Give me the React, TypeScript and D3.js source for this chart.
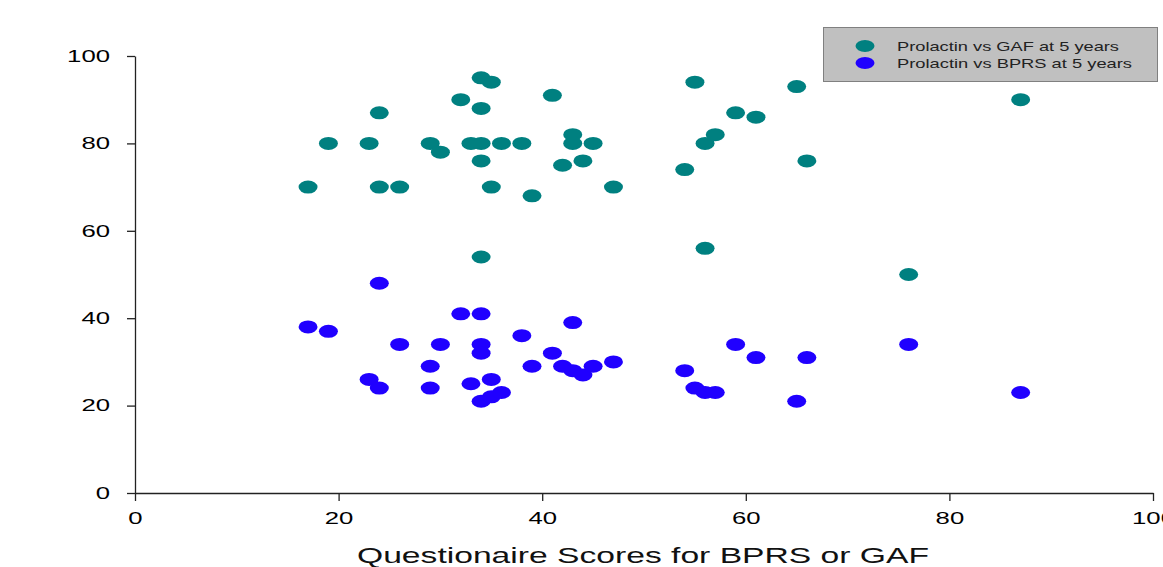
import React, { useRef, useEffect } from "react";
import * as d3 from "d3";

// series labels
const seriesNames = ["Prolactin vs GAF at 5 years", "Prolactin vs BPRS at 5 years"];
const seriesColors = ["#008080", "#2000ff"];

// GAF at 5 years
const gafX = [17, 19, 23, 24, 24, 26, 29, 30, 32, 33, 34, 34, 34, 34, 34, 35, 35, 36, 38, 39, 41, 42, 43, 43, 44, 45, 47, 54, 55, 56, 56, 57, 59, 61, 65, 66, 76, 87];
const gafY = [70, 80, 80, 87, 70, 70, 80, 78, 90, 80, 95, 88, 80, 76, 54, 94, 70, 80, 80, 68, 91, 75, 82, 80, 76, 80, 70, 74, 94, 80, 56, 82, 87, 86, 93, 76, 50, 90];

// BPRS at 5 years
const bprsX = [17, 19, 23, 24, 24, 26, 29, 29, 30, 32, 33, 34, 34, 34, 34, 35, 35, 36, 38, 39, 41, 42, 43, 43, 44, 45, 47, 54, 55, 56, 57, 59, 61, 65, 66, 76, 87];
const bprsY = [38, 37, 26, 48, 24, 34, 29, 24, 34, 41, 25, 41, 34, 32, 21, 26, 22, 23, 36, 29, 32, 29, 39, 28, 27, 29, 30, 28, 24, 23, 23, 34, 31, 21, 31, 34, 23];

const xTicks = [0, 20, 40, 60, 80, 100];
const yTicks = [0, 20, 40, 60, 80, 100];
const xTitle = "Questionaire Scores for BPRS or GAF";

function App() {
  const width = 1163;
  const height = 567;
  const margin = { top: 56, right: 10, bottom: 74, left: 135 };
  let svgRef = useRef(null);

  const draw = () => {
    const svg = d3.select(svgRef.current);
    svg.selectAll("*").remove();

    const x = d3.scaleLinear().domain([0, 100]).range([margin.left, 1153]);
    const y = d3.scaleLinear().domain([0, 100]).range([height - margin.bottom, margin.top]);

    // the original is stretched sideways, so labels get a fixed width per char
    const charW = 14.3;

    const yAxis = svg
      .append("g")
      .attr("transform", "translate(" + margin.left + ",0)")
      .call(d3.axisLeft(y).tickValues(yTicks).tickSize(8).tickSizeOuter(0).tickPadding(17));
    yAxis.selectAll("text")
      .attr("font-family", "'Liberation Sans', Arial, sans-serif")
      .attr("font-size", 16.5)
      .attr("fill", "#000")
      .attr("lengthAdjust", "spacingAndGlyphs")
      .attr("textLength", (d) => String(d).length * charW);

    const xAxis = svg
      .append("g")
      .attr("transform", "translate(0," + y(0) + ")")
      .call(d3.axisBottom(x).tickValues(xTicks).tickSize(8).tickSizeOuter(0).tickPadding(11));
    xAxis.selectAll("text")
      .attr("font-family", "'Liberation Sans', Arial, sans-serif")
      .attr("font-size", 16.5)
      .attr("fill", "#000")
      .attr("lengthAdjust", "spacingAndGlyphs")
      .attr("textLength", (d) => String(d).length * charW);

    svg.selectAll(".domain, .tick line").attr("stroke", "#222").attr("stroke-width", 1.3);

    svg
      .append("text")
      .attr("x", 357)
      .attr("y", 563)
      .attr("font-family", "'Liberation Sans', Arial, sans-serif")
      .attr("font-size", 21.5)
      .attr("fill", "#111")
      .attr("lengthAdjust", "spacingAndGlyphs")
      .attr("textLength", 572)
      .text(xTitle);

    const series = [
      { xs: gafX, ys: gafY },
      { xs: bprsX, ys: bprsY },
    ];

    series.forEach((s, i) => {
      svg
        .append("g")
        .selectAll("ellipse")
        .data(s.xs.map((v, j) => [v, s.ys[j]]))
        .join("ellipse")
        .attr("cx", (d) => x(d[0]))
        .attr("cy", (d) => y(d[1]))
        .attr("rx", 9.5)
        .attr("ry", 6.5)
        .attr("fill", seriesColors[i]);
    });

    // legend
    const lg = svg.append("g");
    lg.append("rect")
      .attr("x", 823.5)
      .attr("y", 27.5)
      .attr("width", 334)
      .attr("height", 54)
      .attr("fill", "#c0c0c0")
      .attr("stroke", "#808080")
      .attr("stroke-width", 1);
    const legendW = [222, 235];
    seriesNames.forEach((name, i) => {
      lg.append("ellipse")
        .attr("cx", 865)
        .attr("cy", 46 + i * 17)
        .attr("rx", 9.5)
        .attr("ry", 6)
        .attr("fill", seriesColors[i]);
      lg.append("text")
        .attr("x", 897)
        .attr("y", 51 + i * 17)
        .attr("font-family", "'Liberation Sans', Arial, sans-serif")
        .attr("font-size", 13)
        .attr("fill", "#222")
        .attr("lengthAdjust", "spacingAndGlyphs")
        .attr("textLength", legendW[i])
        .text(name);
    });
  };

  useEffect(() => {
    draw();
  });

  return (
    <svg
      ref={svgRef}
      width={width}
      height={height}
      style={{ position: "absolute", left: 0, top: 0, background: "#fff" }}
    ></svg>
  );
}

export default App;
